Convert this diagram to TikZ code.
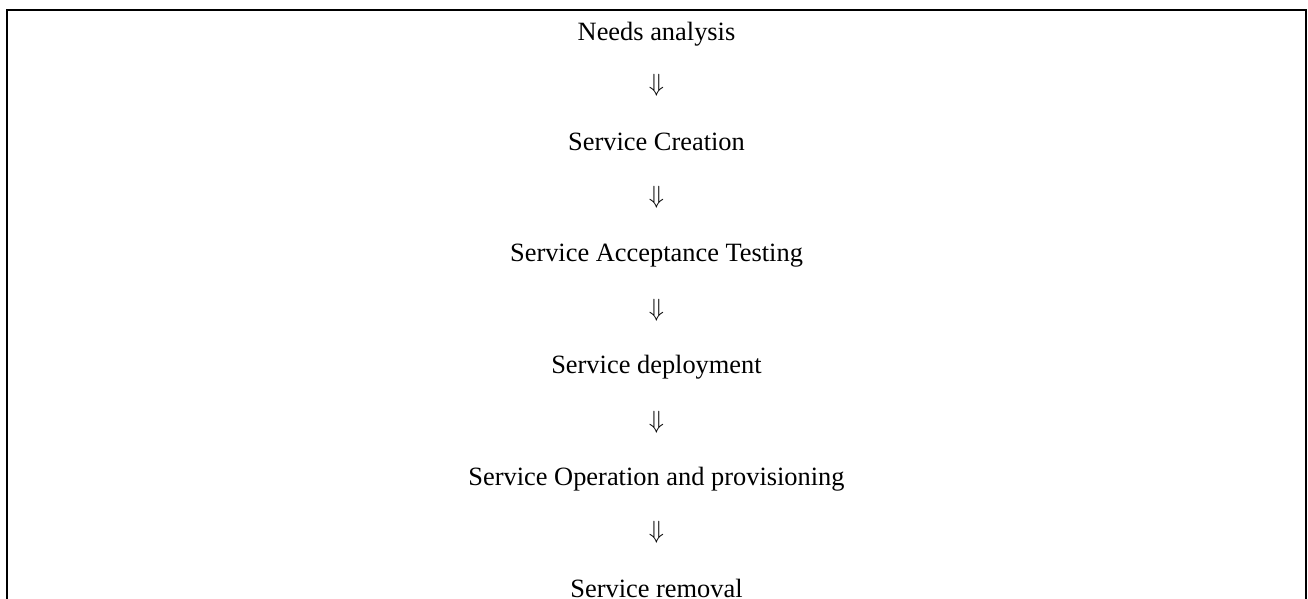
\documentclass[tikz,border=0pt]{standalone}
\usepackage{fontspec}
\setmainfont{Liberation Serif}
\begin{document}
\begin{tikzpicture}[x=1pt,y=1pt,
  steptext/.style={inner sep=0pt,anchor=base,font=\fontsize{26.4}{30}\selectfont},
  arrowglyph/.style={inner sep=0pt,anchor=center,font=\fontsize{26.4}{30}\selectfont}]
\useasboundingbox (0,0) rectangle (1308,599);
% frame (open at the bottom)
\coordinate (bl) at (7,-5);
\coordinate (tl) at (7,588.7);
\coordinate (tr) at (1306.3,588.7);
\coordinate (br) at (1306.3,-5);
\draw[line width=2pt,line join=miter] (bl) -- (tl) -- (tr) -- (br);
% steps
\node[steptext] (s1) at (656.5,558) {Needs analysis};
\node[arrowglyph] (a1) at (656.5,514) {$\Downarrow$};
\node[steptext] (s2) at (656.5,448) {Service Creation};
\node[arrowglyph] (a2) at (656.5,402) {$\Downarrow$};
\node[steptext] (s3) at (656.5,337) {Service Acceptance Testing};
\node[arrowglyph] (a3) at (656.5,289) {$\Downarrow$};
\node[steptext] (s4) at (656.5,225) {Service deployment};
\node[arrowglyph] (a4) at (656.5,177) {$\Downarrow$};
\node[steptext] (s5) at (656.5,113) {Service Operation and provisioning};
\node[arrowglyph] (a5) at (656.5,67) {$\Downarrow$};
\node[steptext] (s6) at (656.5,1.5) {Service removal};
\end{tikzpicture}
\end{document}
